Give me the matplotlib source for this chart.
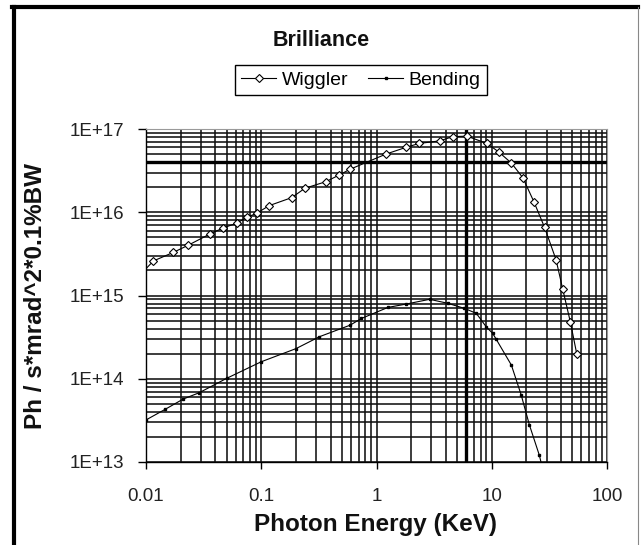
import matplotlib
matplotlib.use('Agg')
import matplotlib.pyplot as plt
from matplotlib.ticker import LogLocator
from matplotlib.lines import Line2D

plt.rcParams['font.family'] = ['Liberation Sans', 'DejaVu Sans']

# ---- data ----
wiggler_energy = [0.01, 0.0116, 0.0173, 0.0231, 0.036, 0.047, 0.0614, 0.075, 0.091,
                  0.117, 0.184, 0.239, 0.364, 0.474, 0.588, 1.21, 1.79, 2.34, 3.53,
                  4.6, 6.1, 9.1, 11.5, 14.8, 18.6, 23.2, 28.7, 36.1, 41.3, 48.1, 54.6]
wiggler_brilliance = [2.1e15, 2.6e15, 3.3e15, 4.0e15, 5.5e15, 6.5e15, 7.4e15, 8.7e15, 9.7e15,
                      1.2e16, 1.5e16, 1.94e16, 2.33e16, 2.8e16, 3.28e16, 5.0e16, 6.0e16, 6.7e16, 7.2e16,
                      8.1e16, 8.2e16, 6.7e16, 5.3e16, 3.9e16, 2.6e16, 1.34e16, 6.6e15, 2.7e15, 1.19e15,
                      4.8e14, 2.0e14]

bending_energy = [0.01, 0.0147, 0.021, 0.029, 0.05, 0.1, 0.2, 0.32, 0.59, 0.74, 1.26, 1.82,
                  2.89, 4.17, 5.8, 7.35, 8.96, 10.2, 10.9, 14.8, 18.0, 21.2, 25.9, 27.5]
bending_brilliance = [3.2e13, 4.3e13, 5.7e13, 6.8e13, 1.01e14, 1.6e14, 2.3e14, 3.2e14, 4.4e14,
                      5.3e14, 7.2e14, 7.9e14, 9.0e14, 8.05e14, 7.0e14, 6.1e14, 4.2e14, 3.5e14,
                      3.0e14, 1.46e14, 6.4e13, 2.8e13, 1.2e13, 8.5e12]

x_ticks = [0.01, 0.1, 1, 10, 100]
x_tick_labels = ['0.01', '0.1', '1', '10', '100']
y_ticks = [1e13, 1e14, 1e15, 1e16, 1e17]
y_tick_labels = ['1E+13', '1E+14', '1E+15', '1E+16', '1E+17']

title = 'Brilliance'
x_label = 'Photon Energy (KeV)'
y_label = 'Ph / s*mrad^2*0.1%BW'

# ---- figure ----
W, H = 642, 545
fig = plt.figure(figsize=(W / 100, H / 100), dpi=100)
fig.patch.set_facecolor('white')

ax = fig.add_axes([146 / W, (H - 462) / H, (607 - 146) / W, (462 - 129) / H])
ax.set_xscale('log')
ax.set_yscale('log')
ax.set_xlim(0.01, 100)
ax.set_ylim(1e13, 1e17)

ax.set_xticks(x_ticks)
ax.set_xticklabels(x_tick_labels)
ax.set_yticks(y_ticks)
ax.set_yticklabels(y_tick_labels)
ax.xaxis.set_minor_locator(LogLocator(base=10, subs=range(2, 10), numticks=30))
ax.yaxis.set_minor_locator(LogLocator(base=10, subs=range(2, 10), numticks=30))
ax.tick_params(which='minor', length=0, labelleft=False, labelbottom=False)
ax.tick_params(axis='y', which='major', length=6, width=1, pad=10, labelsize=13.5,
               direction='out', colors='black', labelcolor='#222222')
ax.tick_params(axis='x', which='major', length=5, width=1, pad=14, labelsize=13.5,
               direction='out', colors='black', labelcolor='#222222')

ax.grid(which='both', color='#111111', linewidth=1.15)
ax.set_axisbelow(True)
ax.axvline(6, color='black', linewidth=2.4, zorder=1.5)
ax.axhline(4e16, color='black', linewidth=2.4, zorder=1.5)

for side in ('top', 'right'):
    ax.spines[side].set_color('#9a9a9a')
for side in ('left', 'bottom'):
    ax.spines[side].set_color('black')
    ax.spines[side].set_linewidth(1.0)

l1, = ax.plot(wiggler_energy, wiggler_brilliance, color='black', linewidth=0.8,
              marker='D', markersize=4.3, markerfacecolor='white', markeredgecolor='black',
              markeredgewidth=0.8, markevery=list(range(1, len(wiggler_energy))),
              label='Wiggler', zorder=3)
l2, = ax.plot(bending_energy, bending_brilliance, color='black', linewidth=0.8,
              marker='s', markersize=2.0, markerfacecolor='black', markeredgecolor='black',
              label='Bending', zorder=3)

leg = fig.legend(handles=[l1, l2], labels=['Wiggler', 'Bending'], loc='center',
                 bbox_to_anchor=(361 / W, 1 - 80 / H), ncol=2, frameon=True, fancybox=False,
                 edgecolor='black', framealpha=1, fontsize=14, handlelength=1.8,
                 columnspacing=1.0, borderpad=0.3, handletextpad=0.3)
leg.get_frame().set_linewidth(1.0)

fig.text(321 / W, 1 - 41 / H, title, ha='center', va='center', fontsize=15.5,
         fontweight='bold', color='#111111')
fig.text(376 / W, 1 - 524 / H, x_label, ha='center', va='center', fontsize=17.5,
         fontweight='bold', color='#111111')
fig.text(36 / W, 1 - 296 / H, y_label, ha='center', va='center', fontsize=17.5,
         fontweight='bold', rotation=90, color='#111111')

# chart-area border (thick black left/top, thin grey right)
fig.add_artist(Line2D([14 / W, 14 / W], [0, 1 - 7 / H], transform=fig.transFigure,
                      color='black', linewidth=3.0))
fig.add_artist(Line2D([12 / W, 638 / W], [1 - 7 / H, 1 - 7 / H], transform=fig.transFigure,
                      color='black', linewidth=3.0))
fig.add_artist(Line2D([638 / W, 638 / W], [0, 1 - 7 / H], transform=fig.transFigure,
                      color='#888888', linewidth=0.8))

fig.savefig('out.png', dpi=100)
